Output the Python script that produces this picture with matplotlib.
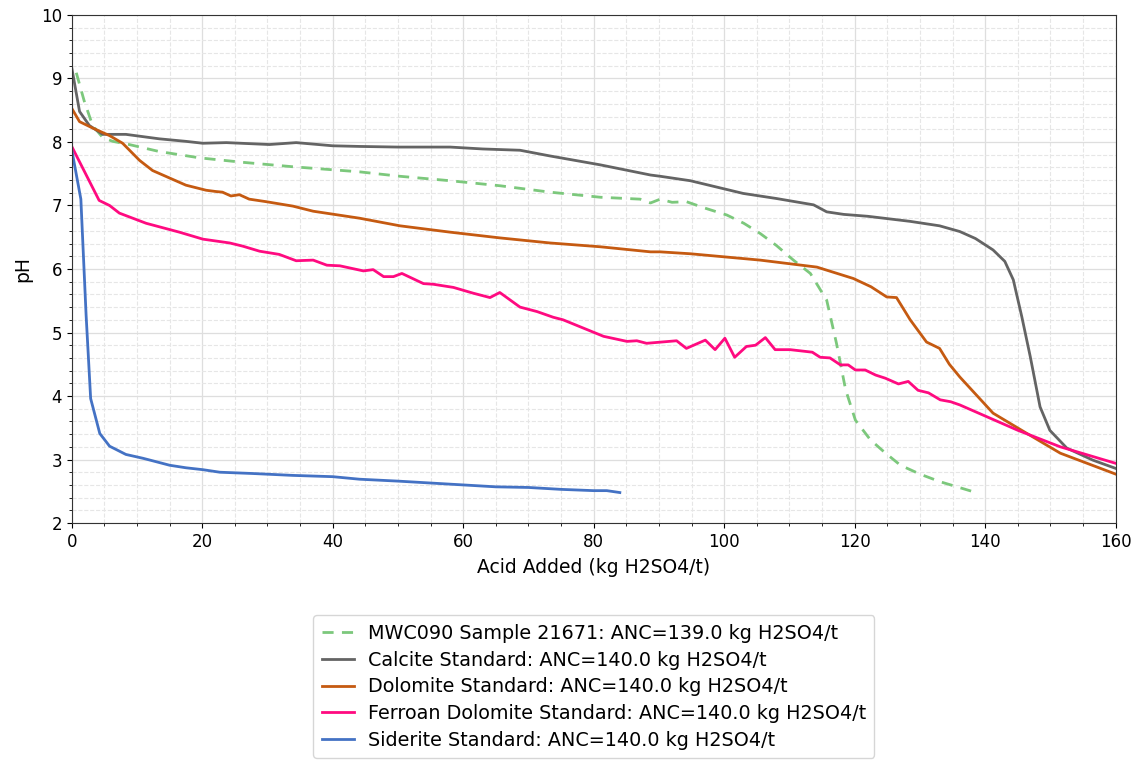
import numpy as np
import matplotlib
matplotlib.use("Agg")
import matplotlib.pyplot as plt
from matplotlib.ticker import AutoMinorLocator

# MWC090 sample (dashed green)
sample_x = [0.7, 1.9, 3.2, 4.75, 6.3, 8.8, 13.4, 19.6, 26.2, 33.9, 44.1, 50.3, 58, 65.7,
            73.3, 81, 87.1, 88.7, 90.2, 92, 94.2, 97, 100.4, 103, 105.5, 108, 110.6, 113.2,
            115.7, 117.2, 118.6, 120.1, 122.4, 124.5, 127, 130, 133.1, 136, 138.9]
sample_y = [9.09, 8.65, 8.26, 8.07, 8.01, 7.96, 7.85, 7.75, 7.68, 7.61, 7.53, 7.46, 7.39, 7.31,
            7.21, 7.13, 7.10, 7.04, 7.10, 7.05, 7.06, 6.96, 6.85, 6.72, 6.56, 6.37, 6.14, 5.93,
            5.51, 4.83, 4.10, 3.62, 3.31, 3.12, 2.91, 2.77, 2.65, 2.56, 2.47]

calcite_x = [0, 1.2, 2.7, 4.75, 8.3, 13.4, 17.5, 20.1, 23.7, 30.3, 34.4, 40, 44.1, 50, 58,
             63, 68.7, 73.3, 81, 88.7, 90.2, 94.8, 102.9, 108, 113.7, 115.7, 118.3, 122, 128.5,
             133, 136.1, 138.5, 141.2, 143, 144.3, 145.6, 146.9, 148.4, 149.9, 152.5, 156.5, 160]
calcite_y = [9.17, 8.48, 8.26, 8.12, 8.12, 8.05, 8.01, 7.98, 7.99, 7.96, 7.99, 7.94, 7.93, 7.92, 7.92,
             7.89, 7.87, 7.78, 7.64, 7.48, 7.46, 7.39, 7.19, 7.11, 7.01, 6.90, 6.86, 6.83, 6.75,
             6.68, 6.59, 6.48, 6.30, 6.12, 5.83, 5.25, 4.62, 3.83, 3.46, 3.18, 2.99, 2.86]

dolomite_x = [0, 1.2, 3.2, 5.8, 7.8, 10.4, 12.4, 15.5, 17.5, 20.6, 22.1, 23.1, 24.4, 25.7,
              27.2, 29.8, 33.9, 37, 44.1, 50.3, 58, 65.6, 73.3, 81, 88.7, 90.2, 94.8, 105.5,
              114.2, 119.8, 122.5, 124.9, 126.4, 128.5, 131, 133, 134.5, 136.1, 141.2, 146.4,
              151.5, 160]
dolomite_y = [8.53, 8.32, 8.22, 8.10, 7.98, 7.71, 7.55, 7.41, 7.32, 7.24, 7.22, 7.21, 7.15, 7.17,
              7.10, 7.06, 6.99, 6.91, 6.80, 6.68, 6.58, 6.49, 6.41, 6.35, 6.27, 6.27, 6.24, 6.14,
              6.03, 5.85, 5.72, 5.56, 5.55, 5.20, 4.85, 4.75, 4.50, 4.30, 3.73, 3.41, 3.10, 2.77]

ferroan_x = [0, 4.2, 5.8, 7.3, 11.4, 16.5, 20.1, 24.2, 26.2, 28.8, 31.8, 34.4, 37, 39.1, 41.1,
             44.7, 46.2, 47.8, 49.3, 50.6, 53.9, 55.4, 58.5, 61.5, 64.1, 65.6, 68.7, 71.3, 73.8,
             75.3, 78.4, 81.5, 85.1, 86.6, 88.1, 92.7, 94.2, 97.1, 98.6, 100.1, 101.6, 103.4,
             104.8, 106.3, 107.8, 110.1, 113.5, 114.7, 116.2, 117.8, 119, 120.1, 121.6, 123.2,
             124.7, 126.7, 128.2, 129.7, 131.3, 133.1, 134.7, 136.1, 145, 151.5, 160]
ferroan_y = [7.93, 7.08, 7.00, 6.88, 6.72, 6.58, 6.47, 6.41, 6.36, 6.28, 6.23, 6.13, 6.14, 6.06, 6.05,
             5.97, 5.99, 5.88, 5.88, 5.93, 5.77, 5.76, 5.71, 5.62, 5.55, 5.63, 5.40, 5.33, 5.24,
             5.20, 5.07, 4.94, 4.86, 4.87, 4.83, 4.87, 4.75, 4.88, 4.73, 4.91, 4.61, 4.78,
             4.80, 4.92, 4.73, 4.73, 4.69, 4.61, 4.60, 4.49, 4.49, 4.41, 4.41, 4.33,
             4.28, 4.19, 4.23, 4.09, 4.05, 3.94, 3.91, 3.86, 3.46, 3.20, 2.94]

siderite_x = [0, 1.4, 2.2, 2.9, 4.3, 5.8, 8.3, 10.9, 12.4, 15, 17.5, 20.1, 22.7, 27.7, 33.9,
              40, 44.1, 50, 55, 60, 65, 70, 75, 80, 82, 84]
siderite_y = [7.88, 7.10, 5.28, 3.96, 3.41, 3.21, 3.08, 3.02, 2.98, 2.91, 2.87, 2.84, 2.80, 2.78, 2.75,
              2.73, 2.69, 2.66, 2.63, 2.60, 2.57, 2.56, 2.53, 2.51, 2.51, 2.48]

labels = ["MWC090 Sample 21671: ANC=139.0 kg H2SO4/t",
          "Calcite Standard: ANC=140.0 kg H2SO4/t",
          "Dolomite Standard: ANC=140.0 kg H2SO4/t",
          "Ferroan Dolomite Standard: ANC=140.0 kg H2SO4/t",
          "Siderite Standard: ANC=140.0 kg H2SO4/t"]

fig = plt.figure(figsize=(11.44, 7.6), dpi=100)
ax = fig.add_axes([0.0627, 0.3118, 0.9126, 0.6685])

ax.plot(sample_x, sample_y, color="#7cc87c", lw=2, ls=(0, (4, 3)), label=labels[0])
ax.plot(calcite_x, calcite_y, color="#646464", lw=2, label=labels[1])
ax.plot(dolomite_x, dolomite_y, color="#c55a11", lw=2, label=labels[2])
ax.plot(ferroan_x, ferroan_y, color="#ff0a80", lw=2, label=labels[3])
ax.plot(siderite_x, siderite_y, color="#4472c4", lw=2, label=labels[4])

ax.set_xlim(0, 160)
ax.set_ylim(2, 10)
ax.xaxis.set_minor_locator(AutoMinorLocator(4))
ax.yaxis.set_minor_locator(AutoMinorLocator(5))
ax.grid(which="major", color="#dedede", lw=0.9)
ax.grid(which="minor", color="#e6e6e6", lw=0.8, ls="--")
ax.set_axisbelow(True)
ax.tick_params(labelsize=12)
ax.set_xlabel("Acid Added (kg H2SO4/t)", fontsize=13.5, labelpad=5)
ax.set_ylabel("pH", fontsize=13.5, labelpad=6)
for s in ax.spines.values():
    s.set_color("#333333")

fig.legend(loc="upper center", bbox_to_anchor=(0.519, 0.203), fontsize=13.8,
           handlelength=1.7, handletextpad=0.7, borderpad=0.45, labelspacing=0.4)

fig.savefig("out.png", dpi=100)
